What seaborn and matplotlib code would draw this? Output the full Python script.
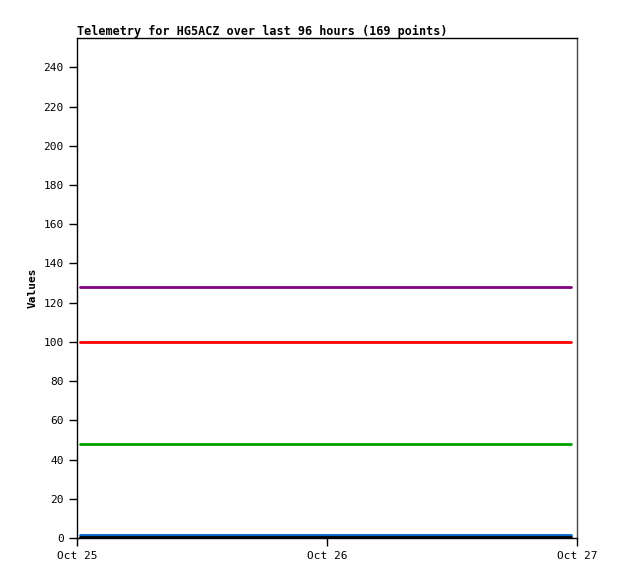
import matplotlib
matplotlib.use("Agg")
import matplotlib.pyplot as plt
import numpy as np
import pandas as pd
import seaborn as sns

n_points = 169
start = "2023-10-25 00:20"
end = "2023-10-26 23:25"
series_names = ["s1", "s2", "s3", "s4", "s5"]
series_levels = [128, 100, 48, 1.5, 0.3]
series_colors = ["#800080", "#FF0000", "#00A000", "#0066CC", "#000000"]
x_ticks = ["2023-10-25", "2023-10-26", "2023-10-27"]
x_tick_labels = ["Oct 25", "Oct 26", "Oct 27"]
y_ticks = list(range(0, 241, 20))

times = pd.date_range(start, end, periods=n_points)
frames = []
for name, lvl in zip(series_names, series_levels):
    frames.append(pd.DataFrame({"time": times, "value": [lvl] * n_points, "series": name}))
df = pd.concat(frames, ignore_index=True)

sns.set_style("white")
plt.rcParams["font.family"] = ["DejaVu Sans Mono", "DejaVu Sans"]
plt.rcParams["text.color"] = "black"
plt.rcParams["axes.labelcolor"] = "black"

fig = plt.figure(figsize=(6.18, 5.79), dpi=100)
ax = fig.add_axes([77 / 618, 1 - 538 / 579, 500 / 618, 500 / 579])
sns.lineplot(data=df, x="time", y="value", hue="series", palette=series_colors,
             hue_order=series_names, linewidth=2, legend=False, ax=ax)

ax.set_xlim(pd.Timestamp(x_ticks[0]), pd.Timestamp(x_ticks[-1]))
ax.set_ylim(0, 255)
ax.set_xticks([pd.Timestamp(t) for t in x_ticks])
ax.set_xticklabels(x_tick_labels)
ax.set_yticks(y_ticks)
ax.tick_params(axis="both", direction="out", length=6, width=1, labelsize=8,
               colors="black", labelcolor="black", bottom=True, left=True)
ax.set_xlabel("")
ax.set_ylabel("Values", fontsize=8, fontweight="bold", color="black")
for s in ax.spines.values():
    s.set_color("black")
    s.set_linewidth(1)
ax.spines["right"].set_color("#444444")
ax.set_title("Telemetry for HG5ACZ over last 96 hours (169 points)", loc="left",
             fontsize=8.5, fontweight="bold", pad=2, color="black")
fig.savefig("out.png", dpi=100)
